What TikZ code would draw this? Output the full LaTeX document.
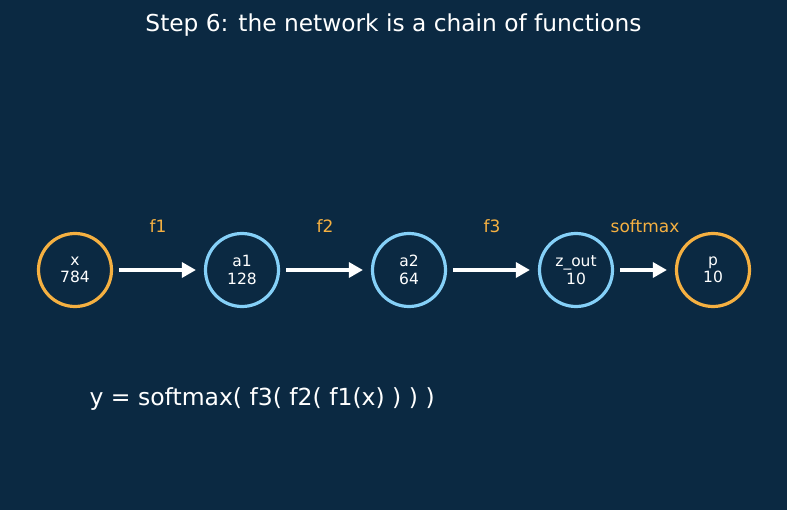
\documentclass[tikz,border=0pt]{standalone}
\usepackage{fontspec}
\setmainfont{DejaVu Sans}
\usetikzlibrary{arrows.meta,positioning}
\definecolor{navybg}{HTML}{0B2942}
\definecolor{inorange}{HTML}{F5B041}
\definecolor{hidblue}{HTML}{85D0F8}
\tikzset{
  >={Triangle[length=14bp,width=15bp]},
  % lager
  lay/.style={circle,line width=3.2bp,inner sep=0pt,minimum size=73bp,
              text=white,align=center,font=\fontsize{15.5bp}{17.5bp}\selectfont},
  io/.style={lay,draw=inorange},
  hid/.style={lay,draw=hidblue},
  fe/.style={->,draw=white,line width=3.2bp,shorten <=6bp,shorten >=8bp},
  fl/.style={text=inorange,font=\fontsize{17bp}{20bp}\selectfont},
}
\begin{document}
\begin{tikzpicture}[x=1bp,y=-1bp]
\fill[navybg] (0,0) rectangle (787,510);
\useasboundingbox (0,0) rectangle (787,510);
  \node[text=white,font=\fontsize{23.3bp}{26bp}\selectfont] (title) at (393.5,25)
    {Step 6: the network is a chain of functions};
  \node[io] (x) at (75,270) {x\\784};
  \node[hid] (a1) at (242,270) {a1\\128};
  \node[hid] (a2) at (409,270) {a2\\64};
  \node[hid] (z) at (576,270) {z\_out\\10};
  \node[io] (p) at (713,270) {p\\10};
  \draw[fe] (x) -- (a1);
  \draw[fe] (a1) -- (a2);
  \draw[fe] (a2) -- (z);
  \draw[fe] (z) -- (p);
  \node[fl] (l1) at (158,226) {f1};
  \node[fl] (l2) at (325,226) {f2};
  \node[fl] (l3) at (492,226) {f3};
  \node[fl] (l4) at (645,226) {softmax};
  \node[text=white,anchor=west,font=\fontsize{23.5bp}{26bp}\selectfont] (eq) at (86,399)
    {y = softmax( f3( f2( f1(x) ) ) )};
\end{tikzpicture}
\end{document}
